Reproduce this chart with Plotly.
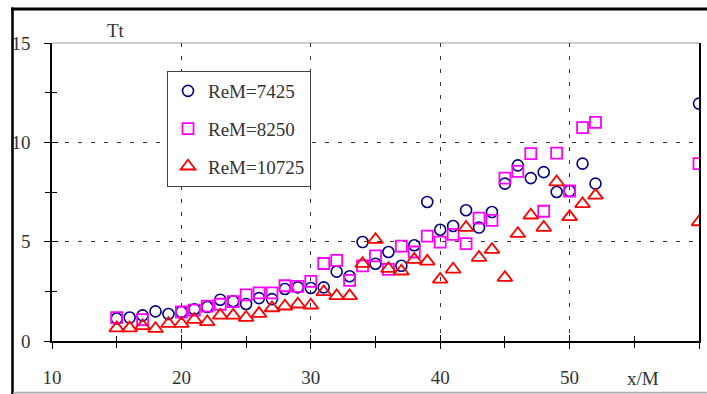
# Tt versus x/M for three ReM values, scatter with open markers

import plotly.graph_objects as go

# Data

x_all = list(range(15, 53)) + [60]

tt_7425 = [1.13, 1.18, 1.29, 1.49, 1.36, 1.46, 1.60, 1.71, 2.08, 2.00,
           1.86, 2.16, 2.11, 2.62, 2.70, 2.67, 2.70, 3.49, 3.26, 4.98,
           3.89, 4.48, 3.79, 4.82, 7.00, 5.60, 5.79, 6.58, 5.71, 6.49,
           7.92, 8.84, 8.20, 8.50, 7.50, 7.55, 8.93, 7.92, 11.95]

x_8250 = [15, 17] + list(range(20, 53)) + [60]
tt_8250 = [1.18, 1.08, 1.46, 1.55, 1.76, 1.85, 1.98, 2.32, 2.42, 2.42,
           2.78, 2.75, 3.00, 3.90, 4.06, 3.05, 3.78, 4.28, 3.61, 4.78,
           4.48, 5.28, 4.98, 5.37, 4.90, 6.19, 6.07, 8.20, 8.54, 9.43,
           6.53, 9.46, 7.55, 10.74, 11.00, 8.93]

tt_10725 = [0.65, 0.65, 0.76, 0.62, 0.87, 0.87, 1.08, 0.96, 1.29, 1.29,
            1.18, 1.38, 1.66, 1.75, 1.85, 1.80, 2.47, 2.27, 2.27, 3.89,
            5.10, 3.64, 3.51, 4.10, 4.01, 3.10, 3.61, 5.71, 4.20, 4.60,
            3.19, 5.40, 6.33, 5.71, 8.00, 6.25, 6.90, 7.33, 5.99]

x_ticks = [10, 20, 30, 40, 50, 60]
y_ticks = [0, 5, 10, 15]

# Layout: zero margins, plot box placed through the axis domains
W, H = 707, 394
BOX_L, BOX_R, BOX_T, BOX_B = 52, 699, 43, 341


def px_x(p):
    return p / W


def px_y(p):
    return 1 - p / H


X_DOM = [px_x(BOX_L), px_x(BOX_R)]
Y_DOM = [px_y(BOX_B), px_y(BOX_T)]

FONT = "Liberation Serif"
TXT = dict(family=FONT, size=19, color="#333")

fig = go.Figure()

fig.add_trace(go.Scatter(
    x=x_all, y=tt_7425, mode="markers", name="ReM=7425", legendgroup="a",
    marker=dict(symbol="circle-open", size=11, color="#000080",
                line=dict(width=1.6, color="#000080"))))
fig.add_trace(go.Scatter(
    x=x_8250, y=tt_8250, mode="markers", name="ReM=8250", legendgroup="b",
    marker=dict(symbol="square-open", size=11, color="#ff00ff",
                line=dict(width=1.8, color="#ff00ff"))))
fig.add_trace(go.Scatter(
    x=x_all, y=tt_10725, mode="markers", name="ReM=10725", legendgroup="c",
    marker=dict(symbol="triangle-up-open", size=13, color="#ff0000",
                line=dict(width=1.8, color="#ff0000"))))

# empty trace so the overlay axes (inner half of the ticks) get drawn
fig.add_trace(go.Scatter(x=[], y=[], xaxis="x2", yaxis="y2", showlegend=False))

fig.update_layout(
    width=W, height=H,
    margin=dict(l=0, r=0, t=0, b=0, autoexpand=False),
    paper_bgcolor="white", plot_bgcolor="white",
    font=TXT,
    xaxis=dict(domain=X_DOM, range=[10, 60], tickvals=x_ticks, ticks="outside", ticklen=6,
               showline=True, linecolor="black", linewidth=2, zeroline=False,
               tickcolor="black", tickfont=TXT,
               showgrid=True, gridcolor="#333", griddash="4px,9px",
               gridwidth=1, ticklabelstandoff=12,
               minor=dict(dtick=5, tick0=10, ticks="outside", ticklen=5, tickcolor="black")),
    yaxis=dict(domain=Y_DOM, range=[0, 15], tickvals=y_ticks, ticks="outside", ticklen=6,
               showline=True, linecolor="black", linewidth=1.5, mirror=True,
               zeroline=False, tickcolor="black", tickfont=TXT,
               showgrid=True, gridcolor="#333",
               griddash="4px,9px", gridwidth=1, ticklabelstandoff=10,
               minor=dict(dtick=2.5, tick0=0, ticks="outside", ticklen=5, tickcolor="black")),
    xaxis2=dict(domain=X_DOM, range=[10, 60], overlaying="x", matches="x", anchor="y2",
                tickvals=x_ticks, ticks="inside", ticklen=6, tickcolor="black",
                showticklabels=False, showgrid=False, showline=False, zeroline=False,
                minor=dict(dtick=5, tick0=10, ticks="inside", ticklen=5, tickcolor="black")),
    yaxis2=dict(domain=Y_DOM, range=[0, 15], overlaying="y", matches="y", anchor="x2",
                tickvals=y_ticks, ticks="inside", ticklen=6, tickcolor="black",
                showticklabels=False, showgrid=False, showline=False, zeroline=False,
                minor=dict(dtick=2.5, tick0=0, ticks="inside", ticklen=5, tickcolor="black")),
    legend=dict(x=px_x(167), y=px_y(71), xanchor="left", yanchor="top",
                bgcolor="white", bordercolor="#444", borderwidth=1,
                font=TXT, tracegroupgap=10, traceorder="grouped"),
    showlegend=True,
)

# axis title texts
fig.add_annotation(text="Tt", x=px_x(116), y=px_y(30), xref="paper", yref="paper",
                   xanchor="center", yanchor="middle", showarrow=False, font=TXT)
fig.add_annotation(text="x/M", x=px_x(643), y=px_y(378), xref="paper", yref="paper",
                   xanchor="center", yanchor="middle", showarrow=False, font=TXT)

# outer frame as filled bars: thick black top and left, light bottom
fig.add_shape(type="rect", xref="paper", yref="paper", layer="above",
              x0=px_x(11), x1=1, y0=px_y(10.5), y1=px_y(7.5),
              fillcolor="black", line=dict(width=0))
fig.add_shape(type="rect", xref="paper", yref="paper", layer="above",
              x0=px_x(11.2), x1=px_x(13.8), y0=0, y1=px_y(7.5),
              fillcolor="black", line=dict(width=0))
fig.add_shape(type="rect", xref="paper", yref="paper", layer="above",
              x0=px_x(13), x1=1, y0=px_y(393.5), y1=px_y(391.8),
              fillcolor="#aaa", line=dict(width=0))
# thin top edge of plot box
fig.add_shape(type="line", xref="paper", yref="paper", layer="below",
              x0=X_DOM[0], x1=X_DOM[1], y0=Y_DOM[1], y1=Y_DOM[1],
              line=dict(color="#999", width=1))

# drop the default page margin so the figure sits at the window's corner
fig.write_html("out.html", config={"displayModeBar": False},
               post_script="document.body.style.margin='0';")
